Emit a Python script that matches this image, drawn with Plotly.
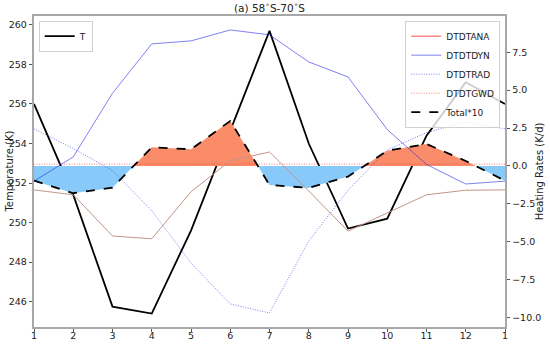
import numpy as np
import plotly.graph_objects as go

months = [1, 2, 3, 4, 5, 6, 7, 8, 9, 10, 11, 12, 13]
month_labels = ["1", "2", "3", "4", "5", "6", "7", "8", "9", "10", "11", "12", "1"]

T = [256.0, 251.4, 245.75, 245.4, 249.6, 254.6, 259.7, 254.0, 249.7, 250.2, 254.4, 257.1, 256.0]
DTDTANA = [-1.58, -1.9, -4.62, -4.8, -1.7, 0.35, 0.92, -1.65, -4.3, -3.1, -1.9, -1.6, -1.58]
DTDTDYN = [-1.0, 0.6, 4.8, 8.05, 8.25, 8.97, 8.65, 6.86, 5.87, 2.4, 0.1, -1.19, -1.0]
DTDTRAD = [2.45, 1.15, -0.3, -2.95, -6.4, -9.1, -9.7, -4.95, -1.6, 1.05, 2.2, 2.9, 2.45]
DTDTGWD = [0.12, 0.12, 0.1, 0.1, 0.1, 0.12, 0.14, 0.1, 0.1, 0.12, 0.12, 0.12, 0.12]
TOTAL10 = [-0.97, -1.8, -1.43, 1.23, 1.1, 2.97, -1.25, -1.45, -0.7, 1.0, 1.45, 0.33, -0.97]

# build fill polygons (insert zero crossings)
xs, ys = [], []
for i in range(len(months)):
    xs.append(months[i]); ys.append(TOTAL10[i])
    if i < len(months) - 1:
        a, b = TOTAL10[i], TOTAL10[i + 1]
        if a * b < 0:
            t = a / (a - b)
            xs.append(months[i] + t * (months[i + 1] - months[i])); ys.append(0.0)
xs = np.array(xs); ys = np.array(ys)
pos = np.maximum(ys, 0); neg = np.minimum(ys, 0)
zero = np.zeros_like(ys)

fig = go.Figure()
orange = "rgb(250,140,105)"
blue = "rgb(135,202,250)"
fig.add_trace(go.Scatter(x=xs, y=zero, yaxis="y2", mode="lines", line=dict(width=0), showlegend=False, hoverinfo="skip"))
fig.add_trace(go.Scatter(x=xs, y=pos, yaxis="y2", mode="lines", line=dict(width=0), fill="tonexty", fillcolor=orange, showlegend=False, hoverinfo="skip"))
fig.add_trace(go.Scatter(x=xs, y=zero, yaxis="y2", mode="lines", line=dict(width=0), showlegend=False, hoverinfo="skip"))
fig.add_trace(go.Scatter(x=xs, y=neg, yaxis="y2", mode="lines", line=dict(width=0), fill="tonexty", fillcolor=blue, showlegend=False, hoverinfo="skip"))

# right-axis lines
fig.add_trace(go.Scatter(x=months, y=DTDTANA, yaxis="y2", mode="lines", line=dict(color="rgb(195,150,135)", width=1), showlegend=False, hoverinfo="skip"))
fig.add_trace(go.Scatter(x=[None], y=[None], yaxis="y2", mode="lines", name="DTDTANA", line=dict(color="rgba(255,60,60,0.6)", width=1.5), legend="legend2"))
fig.add_trace(go.Scatter(x=months, y=DTDTDYN, yaxis="y2", mode="lines", name="DTDTDYN", line=dict(color="rgba(40,40,230,0.65)", width=0.9), legend="legend2"))
fig.add_trace(go.Scatter(x=months, y=DTDTRAD, yaxis="y2", mode="lines", name="DTDTRAD", line=dict(color="rgba(40,40,230,0.6)", width=1, dash="1px,1.5px"), legend="legend2"))
fig.add_trace(go.Scatter(x=months, y=DTDTGWD, yaxis="y2", mode="lines", name="DTDTGWD", line=dict(color="rgba(255,40,40,0.6)", width=1, dash="1px,1.5px"), legend="legend2"))
fig.add_trace(go.Scatter(x=months, y=TOTAL10, yaxis="y2", mode="lines", name="Total*10", line=dict(color="black", width=1.8, dash="dash"), legend="legend2"))

# temperature
fig.add_trace(go.Scatter(x=months, y=T, yaxis="y", mode="lines", name="T", line=dict(color="black", width=1.8), legend="legend"))

axis_line = dict(showline=True, linecolor="#a8a8a8", linewidth=1.5, ticks="outside", ticklen=3.5, tickcolor="#555",
                 tickwidth=0.8, showgrid=False, zeroline=False, automargin=False, tickfont=dict(size=9.5, color="#222"))
fig.update_layout(
    width=550, height=344,
    margin=dict(l=34, r=45, t=16, b=17),
    paper_bgcolor="white", plot_bgcolor="white",
    font=dict(family="DejaVu Sans", size=10, color="#222"),
    title=dict(text="(a) 58<sup>∘</sup>S-70<sup>∘</sup>S", x=0.49, xanchor="center", yref="container", y=0.977, yanchor="middle", pad=dict(t=0, b=0), font=dict(size=10.5)),
    xaxis=dict(range=[1, 13], tickmode="array", tickvals=months, ticktext=month_labels, mirror=True, ticklabelstandoff=-5, **axis_line),
    yaxis=dict(range=[244.72, 260.45], tickmode="array", tickvals=[246, 248, 250, 252, 254, 256, 258, 260], **axis_line),
    yaxis2=dict(range=[-10.62, 9.89], overlaying="y", side="right", tickmode="array",
                tickvals=[-10, -7.5, -5, -2.5, 0, 2.5, 5, 7.5], tickformat=".1f", **axis_line),
    legend=dict(x=0.01, y=0.985, xanchor="left", yanchor="top", bgcolor="rgba(255,255,255,0.8)", bordercolor="#d0d0d0", borderwidth=1, font=dict(size=9)),
    legend2=dict(x=0.99, y=0.985, xanchor="right", yanchor="top", bgcolor="rgba(255,255,255,0.8)", bordercolor="#d0d0d0", borderwidth=1, font=dict(size=9), tracegroupgap=0),
    annotations=[
        dict(text="Temperature (K)", xref="paper", yref="paper", x=-0.053, y=0.5, xanchor="center", yanchor="middle", textangle=-90, showarrow=False, font=dict(size=10)),
        dict(text="Heating Rates (K/d)", xref="paper", yref="paper", x=1.074, y=0.5, xanchor="center", yanchor="middle", textangle=-90, showarrow=False, font=dict(size=10)),
    ],
)
fig.write_html("out.html", post_script="document.body.style.margin='0px';", config={"displayModeBar": False})
